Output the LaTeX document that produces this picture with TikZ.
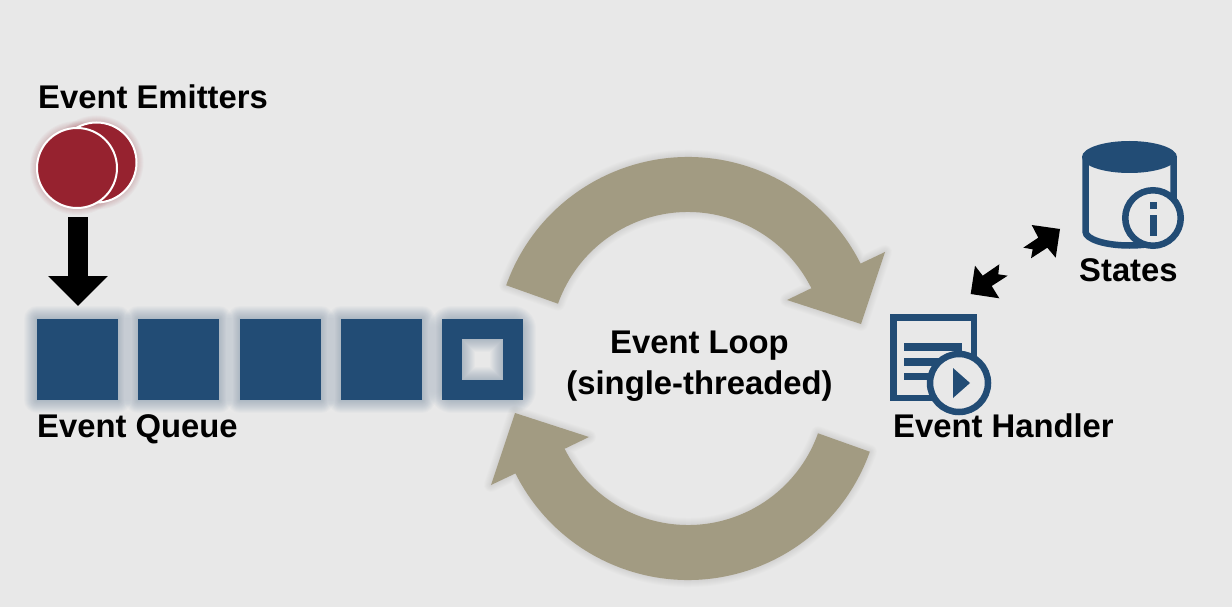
\documentclass[tikz,border=0pt]{standalone}
\usepackage{fontspec}
\setmainfont{Liberation Sans}
\usepackage{tikz}
\usetikzlibrary{positioning,arrows.meta}
\definecolor{bggray}{HTML}{E8E8E8}
\definecolor{navy}{HTML}{224C75}
\definecolor{wine}{HTML}{96222F}
\definecolor{khaki}{HTML}{A29B82}
\tikzset{
    lbl/.style={font=\fontsize{32.8}{41}\selectfont\bfseries,inner sep=0pt,text=black},
    queuebox/.style={fill=navy,minimum size=81,inner sep=0pt},
    emitter/.style={circle,fill=wine,draw=white,line width=2,minimum size=80,inner sep=0pt},
    iconline/.style={draw=navy,line width=6.5},
    fatarrow/.style={-{Triangle[length=30,width=58]},line width=20,black},
}

\begin{document}
\begin{tikzpicture}[x=1pt,y=1pt]
    \useasboundingbox[fill=bggray] (0,-607) rectangle (1232,0);

    % the two loop arrows
    \foreach \ang in {0,180}
    {
        \begin{scope}[rotate around={\ang:(688,-368.5)}]
            \begin{scope}[shift={(688,-350)}]
                \foreach \w in {2,4,...,14}
                    \draw[khaki!70!black,opacity=.018,line width=\w,line join=round]
                        (160.4:193) arc[start angle=160.4,end angle=26.6,radius=193]
                        -- (197,98) -- (173,26) -- (99,50) -- (26.6:138)
                        arc[start angle=26.6,end angle=160.4,radius=138] -- cycle;
                \fill[khaki] (160.4:193) arc[start angle=160.4,end angle=26.6,radius=193]
                    -- (197,98) -- (173,26) -- (99,50) -- (26.6:138)
                    arc[start angle=26.6,end angle=160.4,radius=138] -- cycle;
            \end{scope}
        \end{scope}
    }

    % queue
    \foreach \i/\x in {1/77.5, 2/178.5, 3/280.5, 4/381.5}
    {
        \foreach \w in {2,4,...,26}
            \draw[navy,opacity=.025,line width=\w,line join=round]
                (\x-40.5,-319) rectangle (\x+40.5,-400);
        \node[queuebox] (q\i) at (\x,-359.5) {};
    }
    \foreach \w in {22,24,...,46}
        \draw[navy,opacity=.025,line width=\w,line join=round]
            (482.5-30.5,-329) rectangle (482.5+30.5,-390);
    \node[draw=navy,line width=20,minimum size=61,inner sep=0pt] (q5) at (482.5,-359.5) {};
    \node[lbl,anchor=base west] (queuelbl) at (37,-437) {Event Queue};

    % emitters
    \foreach \w in {2,4,...,12}
    {
        \fill[wine,opacity=.03] (96.5,-162.5) circle ({41+\w/2});
        \fill[wine,opacity=.03] (77,-168) circle ({41+\w/2});
    }
    \node[emitter] (e2) at (96.5,-162.5) {};
    \node[emitter] (e1) at (77,-168) {};
    \node[lbl,anchor=base west] (emitlbl) at (38,-109) {Event Emitters};
    \coordinate (arrowtop) at (78,-217);
    \coordinate (arrowtip) at (78,-306);
    \draw[fatarrow] (arrowtop) -- (arrowtip);

    % center text
    \node[lbl,align=center] (looplbl) at (699.5,-366) {Event Loop\\(single-threaded)};

    % handler icon
    \node[iconline,draw,minimum size=80.5,inner sep=0pt] (handler) at (933.5,-357.5) {};
    \foreach \y in {-347,-362,-376.5}
        \draw[navy,line width=7.5] (904,\y) -- (962,\y);
    \node[circle,iconline,draw,fill=bggray,minimum size=58,inner sep=0pt] (play) at (959,-383) {};
    \fill[navy] (953,-368) -- (970,-383) -- (953,-398) -- cycle;
    \node[lbl,anchor=base west] (handlerlbl) at (893,-437) {Event Handler};

    % states icon
    \fill[navy] (1129.5,-157) ellipse[x radius=47.5,y radius=16];
    \draw[iconline] (1085.5,-157) -- (1085.5,-231.5)
        arc[start angle=180,end angle=360,x radius=44,y radius=14] -- (1173.5,-157);
    \node[circle,iconline,draw,fill=bggray,minimum size=55.5,inner sep=0pt] (info) at (1153,-218) {};
    \fill[navy] (1150,-202) rectangle (1157,-209);
    \fill[navy] (1150,-215) rectangle (1157,-236);
    \node[lbl,anchor=base west] (stateslbl) at (1079,-281) {States};

    % double arrow
    \fill[black] (1060,-229) -- (1055.7,-257.7) -- (1047.3,-247.7) -- (1031,-258.3) -- (1032.7,-249.3)
        -- (1023.3,-247.7) -- (1038.3,-237.7) -- (1031.7,-225) -- cycle;
    \fill[black] (970.7,-294) -- (975,-265.7) -- (982.7,-275.7) -- (999.3,-264.3) -- (998.3,-274.3)
        -- (1007.7,-275.7) -- (991.7,-286) -- (999.3,-298.3) -- cycle;
\end{tikzpicture}
\end{document}
